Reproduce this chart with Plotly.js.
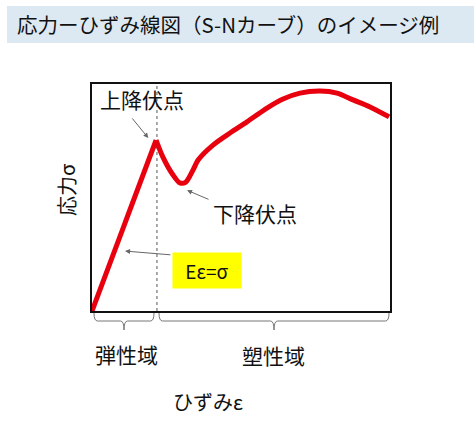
<!DOCTYPE html>
<html>
<head>
<meta charset="utf-8">
<script src="https://cdn.plot.ly/plotly-3.0.1.min.js"></script>
<style>html,body{margin:0;padding:0;background:#fff;}#chart{width:474px;height:430px;}</style>
</head>
<body>
<div id="chart"></div>
<script>
// Strain (ε) and stress (σ) (arbitrary units, 0-100)
const strain = [0, 21.5, 23.8, 27.2, 29.5, 31.5, 33.9, 35.6, 40.6, 46.3, 52.0, 58.7, 64.1, 69.8, 76.5, 82.2, 87.6, 93.3, 99.7];
const stress = [0, 75.3, 67.8, 59.9, 56.4, 56.8, 62.1, 66.5, 73.1, 78.4, 83.3, 89.4, 93.4, 96.0, 96.9, 96.0, 93.0, 89.9, 85.5];
const titleText = '応力ーひずみ線図（S-Nカーブ）のイメージ例';
const xLabel = 'ひずみε';
const yLabel = '応力σ';
const upperYield = '上降伏点';
const lowerYield = '下降伏点';
const hooke = 'Eε=σ';
const regionLabels = ['弾性域', '塑性域'];

const FONT = '"Noto Sans CJK JP", "Noto Sans", sans-serif';
const RED = '#e8000f';
const peakIdx = 1;
const minIdx = 4;

const traces = [
  {x: strain.slice(0, peakIdx + 1), y: stress.slice(0, peakIdx + 1), mode: 'lines', type: 'scatter',
   line: {color: RED, width: 5}, cliponaxis: false, hoverinfo: 'skip'},
  {x: strain.slice(peakIdx), y: stress.slice(peakIdx), mode: 'lines', type: 'scatter',
   line: {color: RED, width: 5, shape: 'spline', smoothing: 0.8}, cliponaxis: false, hoverinfo: 'skip'}
];

// paper coordinate helpers (plot area: x 92..390 px, y 84..311 px)
const px = v => (v - 92) / 298;
const py = v => (311 - v) / 227;

function brace(x0, x1, yTop, yMid, yTip) {
  const xc = (x0 + x1) / 2, d = 0.012;
  return `M ${x0},${yTop} Q ${x0},${yMid} ${x0 + d},${yMid} L ${xc - d},${yMid} Q ${xc},${yMid} ${xc},${yTip} ` +
         `Q ${xc},${yMid} ${xc + d},${yMid} L ${x1 - d},${yMid} Q ${x1},${yMid} ${x1},${yTop}`;
}

const shapes = [
  {type: 'rect', xref: 'paper', yref: 'paper', x0: px(7), x1: px(474), y0: py(43), y1: py(6),
   fillcolor: '#dde9f2', line: {width: 0}, layer: 'below'},
  {type: 'line', xref: 'x', yref: 'y', x0: strain[peakIdx] + 0.3, x1: strain[peakIdx] + 0.3, y0: 0, y1: 100,
   line: {color: '#555', width: 1, dash: 'dot'}, layer: 'below'},
  {type: 'path', xref: 'paper', yref: 'paper', path: brace(px(94), px(154), py(313), py(321), py(330)),
   line: {color: '#777', width: 1}},
  {type: 'path', xref: 'paper', yref: 'paper', path: brace(px(159), px(389), py(313), py(321), py(330)),
   line: {color: '#777', width: 1}}
];

const C = {xanchor: 'center', yanchor: 'middle', showarrow: false};
const annotations = [
  {xref: 'paper', yref: 'paper', x: px(15), y: py(24), xanchor: 'left', yanchor: 'middle', showarrow: false,
   text: titleText, font: {family: FONT, size: 20.5, color: '#111'}},
  Object.assign({xref: 'x', yref: 'y', x: 16.8, y: 93.5, text: upperYield,
   font: {family: FONT, size: 21, color: '#111'}}, C),
  {xref: 'x', yref: 'y', x: strain[peakIdx] - 2.6, y: stress[peakIdx] + 0.9, axref: 'x', ayref: 'y', ax: 13.1, ay: 85.5,
   text: '', showarrow: true, arrowhead: 2, arrowsize: 1, arrowwidth: 1, arrowcolor: '#666'},
  Object.assign({xref: 'x', yref: 'y', x: 54.7, y: 43.2, text: lowerYield,
   font: {family: FONT, size: 21, color: '#111'}}, C),
  {xref: 'x', yref: 'y', x: strain[minIdx] + 2.4, y: stress[minIdx] - 3.2, axref: 'x', ayref: 'y', ax: 39.6, ay: 48.9,
   text: '', showarrow: true, arrowhead: 2, arrowsize: 1, arrowwidth: 1, arrowcolor: '#666'},
  {xref: 'x', yref: 'y', x: 11.1, y: 26.4, axref: 'x', ayref: 'y', ax: 26.8, ay: 24.7,
   text: '', showarrow: true, arrowhead: 2, arrowsize: 1, arrowwidth: 1, arrowcolor: '#666'},
  Object.assign({xref: 'paper', yref: 'paper', x: px(206.5), y: py(270), text: hooke,
   bgcolor: '#ffff00', width: 62, height: 29, borderpad: 3,
   font: {family: FONT, size: 19, color: '#111'}}, C),
  Object.assign({xref: 'paper', yref: 'paper', x: px(126), y: py(354), text: regionLabels[0],
   font: {family: FONT, size: 21, color: '#111'}}, C),
  Object.assign({xref: 'paper', yref: 'paper', x: px(273), y: py(355), text: regionLabels[1],
   font: {family: FONT, size: 21, color: '#111'}}, C),
  Object.assign({xref: 'paper', yref: 'paper', x: px(208), y: py(401), text: xLabel,
   font: {family: FONT, size: 20, color: '#111'}}, C),
  Object.assign({xref: 'paper', yref: 'paper', x: px(66), y: py(190), text: yLabel, textangle: -90,
   font: {family: FONT, size: 20, color: '#111'}}, C)
];

const layout = {
  width: 474, height: 430,
  margin: {l: 92, r: 84, t: 84, b: 119, pad: 0},
  paper_bgcolor: '#fff', plot_bgcolor: '#fff',
  showlegend: false,
  xaxis: {range: [0, 100], showline: true, mirror: true, linecolor: '#111', linewidth: 2,
          showgrid: false, zeroline: false, showticklabels: false, ticks: '', fixedrange: true},
  yaxis: {range: [0, 100], showline: true, mirror: true, linecolor: '#111', linewidth: 2,
          showgrid: false, zeroline: false, showticklabels: false, ticks: '', fixedrange: true},
  shapes: shapes,
  annotations: annotations
};

Plotly.newPlot('chart', traces, layout, {displayModeBar: false, staticPlot: true});
</script>
</body>
</html>
